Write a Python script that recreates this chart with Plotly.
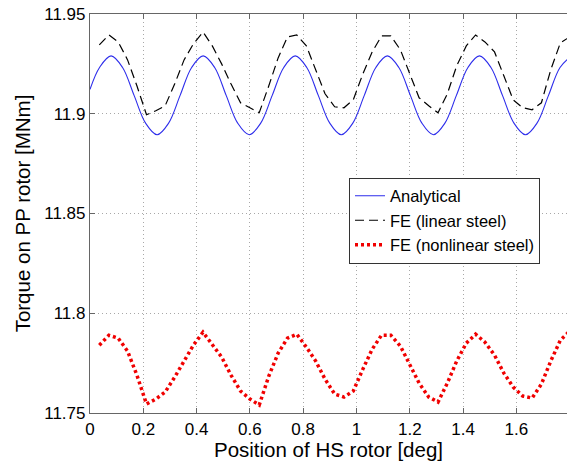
import plotly.graph_objects as go

# ---- data ----
x_an = [0.0, 0.0358, 0.079, 0.1222, 0.1654, 0.2086, 0.2518, 0.295, 0.3382, 0.3814,
        0.4246, 0.4678, 0.511, 0.5542, 0.5974, 0.6406, 0.6838, 0.727, 0.7702, 0.8134,
        0.8566, 0.8998, 0.943, 0.9862, 1.0294, 1.0726, 1.1158, 1.159, 1.2022, 1.2454,
        1.2886, 1.3318, 1.375, 1.4182, 1.4614, 1.5046, 1.5478, 1.591, 1.6342, 1.6774,
        1.7206, 1.7638, 1.807]
y_an = [11.9122, 11.9232, 11.929, 11.9232, 11.9092, 11.8953, 11.8895, 11.8953, 11.9092, 11.9232,
        11.929, 11.9232, 11.9092, 11.8953, 11.8895, 11.8953, 11.9092, 11.9232, 11.929, 11.9232,
        11.9092, 11.8953, 11.8895, 11.8953, 11.9092, 11.9232, 11.929, 11.9232, 11.9092, 11.8953,
        11.8895, 11.8953, 11.9092, 11.9232, 11.929, 11.9232, 11.9092, 11.8953, 11.8895, 11.8953,
        11.9092, 11.9232, 11.929]

x_fe = [0.035, 0.071, 0.106, 0.141, 0.176, 0.212, 0.247, 0.282, 0.318, 0.353,
        0.388, 0.424, 0.459, 0.494, 0.529, 0.565, 0.600, 0.635, 0.671, 0.706,
        0.741, 0.776, 0.812, 0.847, 0.882, 0.918, 0.953, 0.988, 1.024, 1.059,
        1.094, 1.129, 1.165, 1.200, 1.235, 1.271, 1.306, 1.341, 1.376, 1.412,
        1.447, 1.482, 1.518, 1.553, 1.588, 1.624, 1.659, 1.694, 1.729, 1.765, 1.800]
y_fe_lin = [11.9345, 11.9395, 11.936, 11.927, 11.914, 11.8995, 11.9015, 11.904, 11.915, 11.927,
            11.935, 11.941, 11.934, 11.925, 11.915, 11.9055, 11.903, 11.9005, 11.914, 11.928,
            11.9385, 11.9395, 11.934, 11.922, 11.910, 11.9035, 11.903, 11.907, 11.920, 11.931,
            11.939, 11.939, 11.932, 11.920, 11.908, 11.904, 11.9005, 11.910, 11.924, 11.934,
            11.9395, 11.936, 11.931, 11.919, 11.907, 11.903, 11.902, 11.9055, 11.922, 11.9355, 11.9385]
y_fe_nl = [11.784, 11.789, 11.7875, 11.781, 11.769, 11.7545, 11.757, 11.7605, 11.768, 11.776,
           11.784, 11.7905, 11.7845, 11.778, 11.769, 11.761, 11.757, 11.754, 11.7685, 11.780,
           11.7875, 11.7895, 11.783, 11.776, 11.767, 11.7595, 11.758, 11.761, 11.772, 11.782,
           11.789, 11.789, 11.7835, 11.774, 11.765, 11.758, 11.7555, 11.765, 11.776, 11.785,
           11.7895, 11.7855, 11.779, 11.770, 11.763, 11.7585, 11.7575, 11.7645, 11.776, 11.7865, 11.791]

x_ticks = [0, 0.2, 0.4, 0.6, 0.8, 1.0, 1.2, 1.4, 1.6]
x_labels = ["0", "0.2", "0.4", "0.6", "0.8", "1", "1.2", "1.4", "1.6"]
y_ticks = [11.75, 11.8, 11.85, 11.9, 11.95]
y_labels = ["11.75", "11.8", "11.85", "11.9", "11.95"]

font_family = "Liberation Sans, Arial, sans-serif"

fig = go.Figure()
fig.add_trace(go.Scatter(x=x_an, y=y_an, mode="lines", name="Analytical",
                         line=dict(color="rgb(45,45,235)", width=1.1, shape="spline")))
fig.add_trace(go.Scatter(x=x_fe, y=y_fe_lin, mode="lines", name="FE (linear steel)",
                         line=dict(color="black", width=1.2, dash="9px,5px")))
fig.add_trace(go.Scatter(x=x_fe, y=y_fe_nl, mode="lines", name="FE (nonlinear steel)",
                         line=dict(color="rgb(240,0,0)", width=3.5, dash="3px,3px")))

axis_common = dict(showline=True, linecolor="#666", linewidth=1.2,
                   ticks="inside", ticklen=5, tickcolor="#666",
                   showgrid=True, gridcolor="#a8a8a8", gridwidth=1, griddash="1px,3px",
                   zeroline=False, tickfont=dict(size=17, color="black", family=font_family))

fig.update_xaxes(range=[0, 1.79], tickvals=x_ticks, ticktext=x_labels, mirror="ticks",
                 title=dict(text="Position of HS rotor [deg]", font=dict(size=20.5, color="black", family=font_family), standoff=4),
                 **axis_common)
fig.update_yaxes(range=[11.75, 11.95], tickvals=y_ticks, ticktext=y_labels, mirror=False,
                 title=dict(text="Torque on PP rotor [MNm]", font=dict(size=20.5, color="black", family=font_family), standoff=8),
                 **axis_common)

fig.update_layout(
    width=568, height=466,
    margin=dict(l=90, r=1, t=14, b=53),
    plot_bgcolor="white", paper_bgcolor="white",
    font=dict(family=font_family, color="black"),
    legend=dict(x=0.543, y=0.59, xanchor="left", yanchor="top",
                bgcolor="white", bordercolor="#333", borderwidth=1,
                font=dict(size=16.5, color="black", family=font_family)),
)

fig.write_html("out.html")
